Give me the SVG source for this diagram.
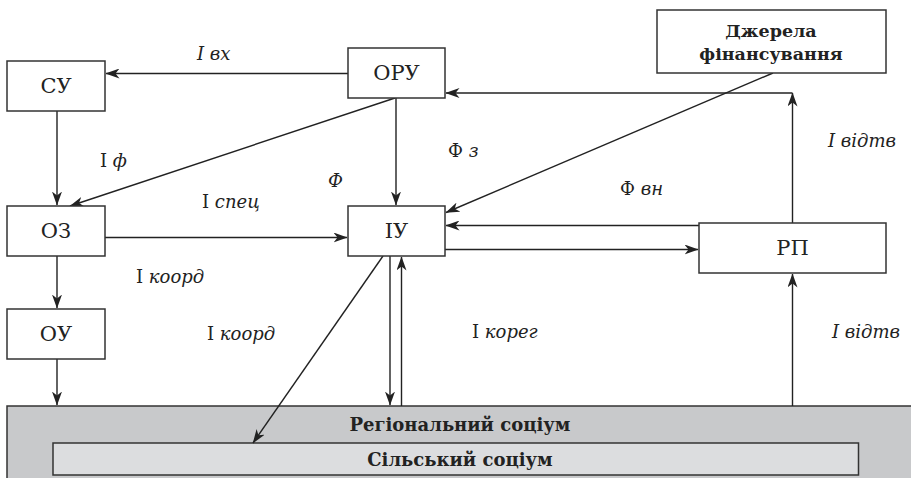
<svg xmlns="http://www.w3.org/2000/svg" width="911" height="478" viewBox="0 0 911 478" font-family="'DejaVu Serif', serif">
<style>
.box{fill:#fff;stroke:#333;stroke-width:1.5}
.ln{fill:none;stroke:#222;stroke-width:1.4}
text{font-family:'DejaVu Serif',serif;fill:#222}
.n{font-size:21px;text-anchor:middle}
.lb{font-size:18px}
.i{font-style:italic}
.b{font-weight:bold;text-anchor:middle}
</style>
<defs>
<marker id="ah" viewBox="0 0 14 10" refX="13.5" refY="5" markerWidth="14" markerHeight="10" markerUnits="userSpaceOnUse" orient="auto">
<path d="M0,0 L14,5 L0,10 L4,5 Z" fill="#222"/>
</marker>
</defs>
<g id="society">
<rect x="7" y="406" width="920" height="80" fill="#c8c9cb" stroke="#333" stroke-width="1.5"/>
<text class="b" x="460" y="431" font-size="18">Регіональний соціум</text>
</g>
<g id="rural">
<rect x="53" y="443" width="805.5" height="32" fill="#dcdddf" stroke="#333" stroke-width="1.5"/>
<text class="b" x="460" y="466" font-size="18">Сільський соціум</text>
</g>
<g id="connectors">
<line class="ln" x1="348" y1="73.5" x2="106" y2="73.5" marker-end="url(#ah)"/>
<line class="ln" x1="57" y1="111" x2="57" y2="205" marker-end="url(#ah)"/>
<line class="ln" x1="395" y1="98" x2="70" y2="206" marker-end="url(#ah)"/>
<line class="ln" x1="396" y1="98" x2="396" y2="205" marker-end="url(#ah)"/>
<line class="ln" x1="105" y1="237.5" x2="347" y2="237.5" marker-end="url(#ah)"/>
<line class="ln" x1="773" y1="73" x2="446" y2="212.5" marker-end="url(#ah)"/>
<line class="ln" x1="792.5" y1="93" x2="446" y2="93" marker-end="url(#ah)"/>
<line class="ln" x1="792.5" y1="223" x2="792.5" y2="93" marker-end="url(#ah)"/>
<line class="ln" x1="699" y1="225.5" x2="446" y2="225.5" marker-end="url(#ah)"/>
<line class="ln" x1="445" y1="249.5" x2="698" y2="249.5" marker-end="url(#ah)"/>
<line class="ln" x1="57" y1="256" x2="57" y2="308" marker-end="url(#ah)"/>
<line class="ln" x1="57" y1="359" x2="57" y2="405" marker-end="url(#ah)"/>
<line class="ln" x1="383" y1="256" x2="253" y2="443" marker-end="url(#ah)"/>
<line class="ln" x1="390" y1="256" x2="390" y2="405" marker-end="url(#ah)"/>
<line class="ln" x1="401.5" y1="406" x2="401.5" y2="257" marker-end="url(#ah)"/>
<line class="ln" x1="792.5" y1="406" x2="792.5" y2="274" marker-end="url(#ah)"/>
</g>
<g id="labels">
<text class="lb i" x="197" y="60">I вх</text>
<text class="lb" x="100" y="167">I <tspan class="i">ф</tspan></text>
<text class="lb" x="202" y="208">I <tspan class="i">спец</tspan></text>
<text class="lb i" x="328" y="187">Ф</text>
<text class="lb" x="448" y="157">Ф <tspan class="i">з</tspan></text>
<text class="lb" x="620" y="195">Ф <tspan class="i">вн</tspan></text>
<text class="lb i" x="828" y="147">I відтв</text>
<text class="lb" x="136" y="283">I <tspan class="i">коорд</tspan></text>
<text class="lb" x="207" y="340">I <tspan class="i">коорд</tspan></text>
<text class="lb" x="472" y="338">I <tspan class="i">корег</tspan></text>
<text class="lb i" x="832" y="338">I відтв</text>
</g>
<g id="SU"><rect class="box" x="7" y="61" width="98" height="50"/><text class="n" x="56" y="93">СУ</text></g>
<g id="ORU"><rect class="box" x="348" y="48" width="97" height="50"/><text class="n" x="396.5" y="80">ОРУ</text></g>
<g id="DZh"><rect class="box" x="657" y="10" width="229" height="63"/><text class="b" x="771" y="37" font-size="17.5">Джерела</text><text class="b" x="771" y="60" font-size="17.5">фінансування</text></g>
<g id="OZ"><rect class="box" x="7" y="206" width="98" height="50"/><text class="n" x="56" y="238">ОЗ</text></g>
<g id="IU"><rect class="box" x="348" y="206" width="97" height="50"/><text class="n" x="396.5" y="238">ІУ</text></g>
<g id="RP"><rect class="box" x="699" y="223" width="187" height="50"/><text class="n" x="792.5" y="255">РП</text></g>
<g id="OU"><rect class="box" x="7" y="309" width="98" height="50"/><text class="n" x="56" y="341">ОУ</text></g>
</svg>
